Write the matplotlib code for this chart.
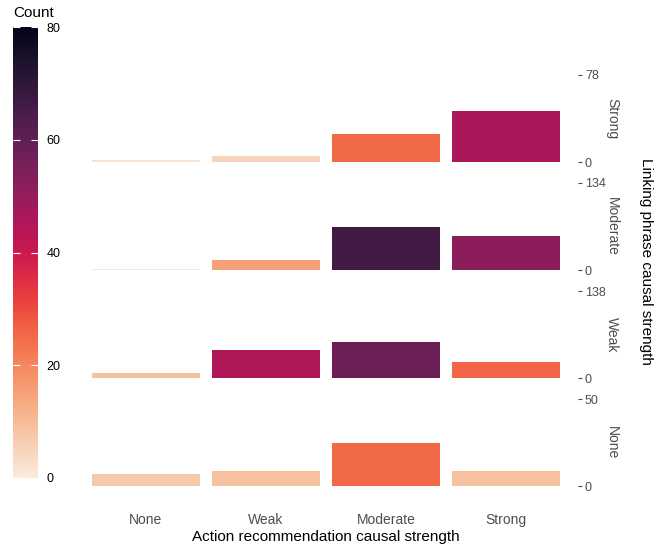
import matplotlib
matplotlib.use("Agg")
import matplotlib.pyplot as plt
import seaborn as sns
from matplotlib.colors import Normalize
from matplotlib.cm import ScalarMappable

plt.rcParams['font.family'] = ['Liberation Sans', 'DejaVu Sans']

# Categories
action_levels = ["None", "Weak", "Moderate", "Strong"]
linking_levels = ["Strong", "Moderate", "Weak", "None"]   # facet rows, top to bottom

# Counts per facet row (one value per action level)
counts_strong = [2, 5, 25, 46]
counts_moderate = [1, 15, 66, 52]
counts_weak = [9, 45, 58, 26]
counts_none = [7, 9, 25, 9]
row_counts = [counts_strong, counts_moderate, counts_weak, counts_none]

count_limits = (0, 80)
count_ticks = [0, 20, 40, 60, 80]

W, H = 658, 548
fig = plt.figure(figsize=(W / 100, H / 100), dpi=100)

def px_axes(x0, y0, x1, y1):
    # pixel box (top-left origin) -> figure axes
    return fig.add_axes([x0 / W, 1 - y1 / H, (x1 - x0) / W, (y1 - y0) / H])

cmap = sns.color_palette("rocket_r", as_cmap=True)
norm = Normalize(*count_limits)
grey = "#4d4d4d"

panel_left, panel_right = 74, 578
panel_tops = [70.6, 178.6, 287.0, 394.8]
panel_h = 95.8

xpos = list(range(len(action_levels)))
for i, (name, counts) in enumerate(zip(linking_levels, row_counts)):
    top = panel_tops[i]
    ax = px_axes(panel_left, top, panel_right, top + panel_h)
    total = sum(counts)
    ax.bar(xpos, counts, width=0.9, color=[cmap(norm(c)) for c in counts], linewidth=0)
    ax.set_xlim(-0.6, len(action_levels) - 0.4)
    ax.set_ylim(-0.05 * total, 1.05 * total)
    ax.yaxis.tick_right()
    ax.set_yticks([0, total])
    ax.set_yticklabels(["0", str(total)])
    ax.tick_params(axis='y', length=3, width=0.8, color=grey, labelcolor=grey,
                   labelsize=9, pad=2)
    for s in ax.spines.values():
        s.set_visible(False)
    if i == len(linking_levels) - 1:
        ax.set_xticks(xpos)
        ax.set_xticklabels(action_levels)
        ax.tick_params(axis='x', length=0, labelcolor=grey, labelsize=10, pad=16)
    else:
        ax.set_xticks([])
    # strip label on the right
    fig.text(612 / W, 1 - (top + panel_h / 2) / H, name, rotation=-90,
             ha='center', va='center', color=grey, fontsize=10)

fig.text(646 / W, 1 - 261 / H, "Linking phrase causal strength", rotation=-90,
         ha='center', va='center', color='black', fontsize=11)
fig.text(((panel_left + panel_right) / 2) / W, 1 - 537 / H,
         "Action recommendation causal strength",
         ha='center', va='center', color='black', fontsize=11)

# Colorbar on the left
cax = px_axes(13, 27, 38, 478)
sm = ScalarMappable(norm=norm, cmap=cmap)
cb = fig.colorbar(sm, cax=cax)
cb.outline.set_visible(False)
cb.set_ticks(count_ticks)
cax.yaxis.set_ticks_position('both')
cax.tick_params(axis='y', direction='in', length=5, width=0.8, color='white',
                labelcolor='black', labelsize=9, left=True, right=True,
                labelleft=False, labelright=True, pad=6)
fig.text(13 / W, 1 - 13 / H, "Count", ha='left', va='center', fontsize=11)

fig.savefig("out.png", dpi=100)
